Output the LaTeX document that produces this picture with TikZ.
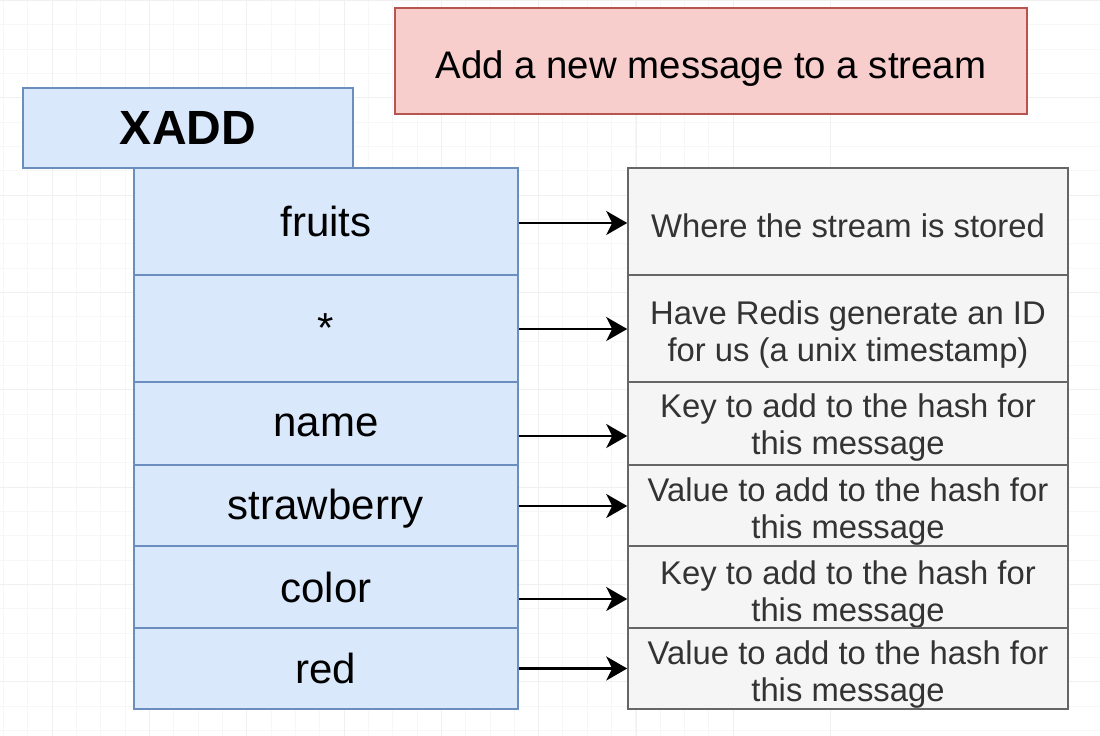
\documentclass[tikz,border=0pt]{standalone}
\usepackage{fontspec}
\setmainfont{Liberation Sans}
\usetikzlibrary{arrows.meta, positioning}

\definecolor{blueFill}{HTML}{DAE8FC}
\definecolor{blueLine}{HTML}{6C8EBF}
\definecolor{redFill}{HTML}{F8CECC}
\definecolor{redLine}{HTML}{B85450}
\definecolor{grayFill}{HTML}{F5F5F5}
\definecolor{grayLine}{HTML}{666666}
\definecolor{noteText}{HTML}{333333}

% invisible strut, sets a label a little below the centre of its box
\newcommand{\padTop}[1]{\rule{0pt}{#1}}

\begin{document}
\begin{tikzpicture}[x=1pt, y=-1pt,
    cell/.style={draw=blueLine, fill=blueFill, line width=1.6pt, minimum width=384pt, inner sep=0pt, font=\fontsize{42}{48}\selectfont},
    note/.style={draw=grayLine, fill=grayFill, line width=1.6pt, minimum width=440pt, inner sep=0pt, text=noteText, align=center, font=\fontsize{32.8}{37}\selectfont},
    arr/.style={-{Stealth[length=21pt, width=24pt, inset=6pt]}, line width=2.5pt}]
    \useasboundingbox[fill=white] (0,0) rectangle (1100,736);

    % Background grid
    \foreach \k in {0,...,30} {
        \draw[black!3, line width=0.8pt] (0,0.4+24.33*\k) -- (1100,0.4+24.33*\k);
        \draw[black!3, line width=0.8pt] (3.3+24.33*\k,0) -- (3.3+24.33*\k,736);
    }
    \foreach \k in {0,...,8} {
        \draw[black!6, line width=0.8pt] (0,0.4+97.32*\k) -- (1100,0.4+97.32*\k);
        \draw[black!6, line width=0.8pt] (52+97.32*\k,0) -- (52+97.32*\k,736);
    }

    % Title
    \node[draw=redLine, fill=redFill, line width=1.6pt, minimum width=632pt, minimum height=106pt, inner sep=0pt, font=\fontsize{38.4}{44}\selectfont] (title) at (711,61) {\padTop{42pt}Add a new message to a stream};

    % Command
    \node[cell, minimum width=330pt, minimum height=80pt, font=\fontsize{48}{54}\bfseries] (xadd) at (188,128) {XADD};

    % Arguments
    \node[cell, minimum height=107pt] (fruits) at (326,221.5) {fruits};
    \node[cell, minimum height=107pt] (star) at (326,328.5) {*};
    \node[cell, minimum height=83pt] (name) at (326,423.5) {\padTop{26pt}name};
    \node[cell, minimum height=81pt] (strawberry) at (326,505.5) {\padTop{37pt}strawberry};
    \node[cell, minimum height=82pt] (color) at (326,587) {color};
    \node[cell, minimum height=81pt] (red) at (326,668.5) {red};

    % Explanations
    \node[note, minimum height=107pt] (nfruits) at (848,221.5) {\padTop{32pt}Where the stream is stored};
    \node[note, minimum height=107pt] (nstar) at (848,328.5) {\padTop{36pt}Have Redis generate an ID\\for us (a unix timestamp)};
    \node[note, minimum height=83pt] (nname) at (848,423.5) {\padTop{32pt}Key to add to the hash for\\this message};
    \node[note, minimum height=81pt] (nstrawberry) at (848,505.5) {\padTop{36pt}Value to add to the hash for\\this message};
    \node[note, minimum height=82pt] (ncolor) at (848,587) {\padTop{38pt}Key to add to the hash for\\this message};
    \node[note, minimum height=81pt] (nred) at (848,668.5) {\padTop{36pt}Value to add to the hash for\\this message};

    % Arrows
    \draw[arr] ([yshift=-1.5pt]fruits.east) -- ([yshift=-1.5pt]nfruits.west);
    \draw[arr] ([yshift=-0.5pt]star.east) -- ([yshift=-0.5pt]nstar.west);
    \draw[arr] ([yshift=-12.5pt]name.east) -- ([yshift=-12.5pt]nname.west);
    \draw[arr] ([yshift=-0.5pt]strawberry.east) -- ([yshift=-0.5pt]nstrawberry.west);
    \draw[arr] ([yshift=-12pt]color.east) -- ([yshift=-12pt]ncolor.west);
    \draw[arr] (red.east) -- (nred.west);
\end{tikzpicture}
\end{document}
